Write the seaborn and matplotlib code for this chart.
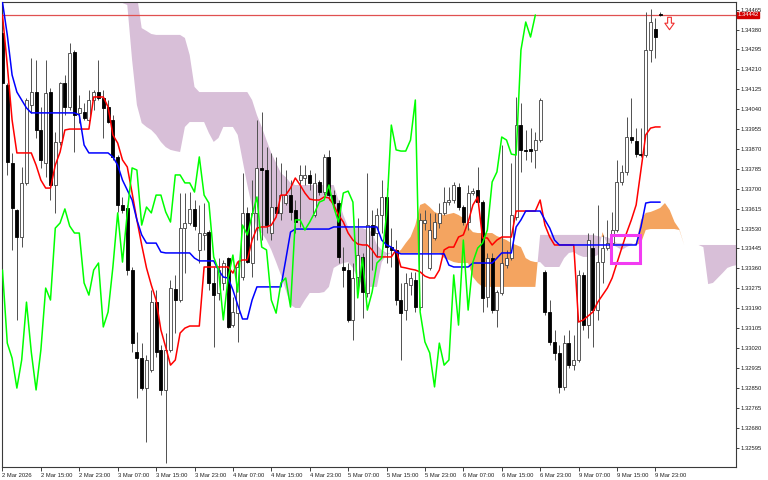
"""H1 candlestick chart with Ichimoku cloud, drawn in MetaTrader style."""

import matplotlib

matplotlib.use("Agg")
import matplotlib.pyplot as plt
import numpy as np
import pandas as pd
import seaborn as sns
from matplotlib.patches import Rectangle
from matplotlib.path import Path

# hourly bars, 2 Mar 07:00 -> 10 Mar 00:00 (weekend hours skipped)
opens = [
    1.34365, 1.34143, 1.33810, 1.33609, 1.33494, 1.33725, 1.34058, 1.34113, 1.33951, 1.33810,
    1.34113, 1.33716, 1.33900, 1.34152, 1.34049, 1.34284, 1.34024, 1.34028, 1.33994, 1.34079,
    1.34113, 1.34088, 1.34049, 1.33994, 1.33836, 1.33631, 1.33618, 1.33353, 1.33003, 1.32977,
    1.32849, 1.32926, 1.33216, 1.33012, 1.32841, 1.33012, 1.33272, 1.33225, 1.33532, 1.33554,
    1.33614, 1.33439, 1.33503, 1.33515, 1.33298, 1.33255, 1.33298, 1.33404, 1.33118, 1.33169,
    1.33323, 1.33597, 1.33383, 1.33597, 1.33789, 1.33780, 1.33511, 1.33622, 1.33597, 1.33639,
    1.33673, 1.33609, 1.33737, 1.33746, 1.33759, 1.33588, 1.33729, 1.33686, 1.33836, 1.33673,
    1.33639, 1.33366, 1.33353, 1.33140, 1.33323, 1.33409, 1.33255, 1.33545, 1.33511, 1.33588,
    1.33665, 1.33451, 1.33439, 1.33225, 1.33182, 1.33289, 1.33310, 1.33195, 1.33554, 1.33362,
    1.33490, 1.33554, 1.33597, 1.33643, 1.33652, 1.33708, 1.33622, 1.33558, 1.33682, 1.33695,
    1.33643, 1.33238, 1.33404, 1.33182, 1.33255, 1.33374, 1.33404, 1.33579, 1.33972, 1.33866,
    1.33870, 1.33866, 1.33908, 1.33345, 1.33174, 1.33046, 1.32999, 1.32854, 1.33041, 1.32947,
    1.32969, 1.33332, 1.33118, 1.33447, 1.33182, 1.33387, 1.33447, 1.33468, 1.33524, 1.33729,
    1.33772, 1.33921, 1.33904, 1.33848, 1.33844, 1.34292, 1.34382, 1.34446,
]
highs = [
    1.34378, 1.34152, 1.33853, 1.33614, 1.33793, 1.34088, 1.34258, 1.34250, 1.34049, 1.34250,
    1.34130, 1.33942, 1.34156, 1.34186, 1.34322, 1.34292, 1.34100, 1.34066, 1.34122, 1.34122,
    1.34250, 1.34122, 1.34079, 1.34015, 1.33844, 1.33665, 1.33631, 1.33366, 1.33088, 1.33041,
    1.32990, 1.33268, 1.33268, 1.33033, 1.33084, 1.33310, 1.33332, 1.33682, 1.33682, 1.33686,
    1.33652, 1.33631, 1.33639, 1.33524, 1.33366, 1.33404, 1.33396, 1.33409, 1.33238, 1.33396,
    1.33767, 1.33622, 1.33737, 1.33994, 1.34028, 1.33878, 1.33853, 1.33836, 1.33810, 1.33780,
    1.33737, 1.33652, 1.33801, 1.33801, 1.33780, 1.33767, 1.33737, 1.33848, 1.33866, 1.33695,
    1.33652, 1.33451, 1.33383, 1.33383, 1.33575, 1.33426, 1.33767, 1.33609, 1.33618, 1.33737,
    1.33703, 1.33532, 1.33481, 1.33298, 1.33340, 1.33345, 1.33345, 1.33597, 1.33609, 1.33597,
    1.33597, 1.33639, 1.33708, 1.33708, 1.33729, 1.33725, 1.33631, 1.33716, 1.33703, 1.33793,
    1.33652, 1.33426, 1.33426, 1.33268, 1.33887, 1.33439, 1.33810, 1.34092, 1.34066, 1.33951,
    1.33959, 1.33942, 1.34088, 1.33353, 1.33225, 1.33097, 1.33033, 1.33076, 1.33097, 1.33076,
    1.33353, 1.33345, 1.33511, 1.33511, 1.33631, 1.33503, 1.33567, 1.33601, 1.33823, 1.33801,
    1.34006, 1.34088, 1.33959, 1.33959, 1.34455, 1.34468, 1.34429, 1.34455,
]
lows = [
    1.34143, 1.33759, 1.33439, 1.33140, 1.33451, 1.33716, 1.34024, 1.33917, 1.33789, 1.33750,
    1.33652, 1.33597, 1.33887, 1.34015, 1.34036, 1.33857, 1.33981, 1.33994, 1.33985, 1.34036,
    1.34079, 1.33917, 1.33981, 1.33823, 1.33601, 1.33597, 1.33332, 1.33003, 1.32807, 1.32841,
    1.32619, 1.32918, 1.32982, 1.32819, 1.32529, 1.33003, 1.33084, 1.33216, 1.33340, 1.33545,
    1.33524, 1.33383, 1.33439, 1.33268, 1.33024, 1.33225, 1.33268, 1.33105, 1.33110, 1.33046,
    1.33310, 1.33383, 1.33323, 1.33481, 1.33481, 1.33511, 1.33481, 1.33597, 1.33567, 1.33631,
    1.33567, 1.33511, 1.33537, 1.33716, 1.33695, 1.33579, 1.33673, 1.33673, 1.33652, 1.33609,
    1.33383, 1.33281, 1.33131, 1.33054, 1.33268, 1.33148, 1.33238, 1.33353, 1.33409, 1.33511,
    1.33383, 1.33366, 1.33204, 1.32969, 1.33140, 1.33246, 1.33174, 1.33182, 1.33524, 1.33353,
    1.33481, 1.33532, 1.33588, 1.33631, 1.33639, 1.33609, 1.33545, 1.33524, 1.33673, 1.33639,
    1.33174, 1.33195, 1.33169, 1.33110, 1.33246, 1.33362, 1.33396, 1.33567, 1.33772, 1.33823,
    1.33814, 1.33789, 1.33900, 1.33161, 1.33033, 1.32969, 1.32828, 1.32841, 1.32935, 1.32926,
    1.32960, 1.33097, 1.33063, 1.33024, 1.33140, 1.33298, 1.33439, 1.33460, 1.33515, 1.33716,
    1.33759, 1.33895, 1.33836, 1.33836, 1.33836, 1.34241, 1.34258, 1.34438,
]
closes = [
    1.34152, 1.33814, 1.33618, 1.33494, 1.33725, 1.34079, 1.34113, 1.33951, 1.33823, 1.34109,
    1.33716, 1.33900, 1.34152, 1.34049, 1.34280, 1.34015, 1.34045, 1.34002, 1.34079, 1.34113,
    1.34088, 1.34045, 1.33985, 1.33836, 1.33631, 1.33609, 1.33353, 1.33041, 1.32977, 1.32849,
    1.32969, 1.33216, 1.33003, 1.32841, 1.33012, 1.33276, 1.33225, 1.33532, 1.33554, 1.33614,
    1.33541, 1.33511, 1.33511, 1.33298, 1.33246, 1.33353, 1.33383, 1.33110, 1.33174, 1.33366,
    1.33597, 1.33387, 1.33597, 1.33789, 1.33780, 1.33545, 1.33622, 1.33597, 1.33673, 1.33673,
    1.33601, 1.33558, 1.33759, 1.33759, 1.33725, 1.33725, 1.33686, 1.33836, 1.33673, 1.33639,
    1.33409, 1.33353, 1.33140, 1.33319, 1.33417, 1.33259, 1.33545, 1.33503, 1.33588, 1.33665,
    1.33451, 1.33439, 1.33225, 1.33169, 1.33298, 1.33319, 1.33195, 1.33567, 1.33567, 1.33524,
    1.33558, 1.33597, 1.33643, 1.33652, 1.33716, 1.33622, 1.33558, 1.33682, 1.33690, 1.33643,
    1.33234, 1.33404, 1.33182, 1.33259, 1.33383, 1.33404, 1.33588, 1.33972, 1.33866, 1.33861,
    1.33861, 1.33908, 1.34079, 1.33174, 1.33046, 1.32999, 1.32854, 1.33041, 1.32947, 1.32969,
    1.33332, 1.33118, 1.33481, 1.33182, 1.33387, 1.33447, 1.33468, 1.33524, 1.33729, 1.33772,
    1.33921, 1.33908, 1.33848, 1.33844, 1.34292, 1.34412, 1.34348, 1.34442,
]

# Ichimoku lines as drawn on the chart
tenkan = [
    1.34442, 1.34228, 1.33994, 1.33853, 1.33853, 1.33853, 1.33853, 1.33801, 1.33737, 1.33703,
    1.33703, 1.33801, 1.33857, 1.33951, 1.33955, 1.33955, 1.33955, 1.33955, 1.33955, 1.34092,
    1.34092, 1.34092, 1.34049, 1.33930, 1.33895, 1.33823, 1.33793, 1.33682, 1.33567, 1.33460,
    1.33362, 1.33289, 1.33225, 1.33097, 1.33024, 1.32947, 1.32969, 1.33084, 1.33105, 1.33114,
    1.33114, 1.33114, 1.33366, 1.33366, 1.33366, 1.33366, 1.33366, 1.33366, 1.33340, 1.33387,
    1.33396, 1.33396, 1.33481, 1.33532, 1.33537, 1.33537, 1.33545, 1.33579, 1.33673, 1.33673,
    1.33703, 1.33746, 1.33716, 1.33682, 1.33656, 1.33652, 1.33652, 1.33665, 1.33661, 1.33631,
    1.33588, 1.33558, 1.33511, 1.33481, 1.33464, 1.33460, 1.33460, 1.33439, 1.33409, 1.33409,
    1.33409, 1.33409, 1.33439, 1.33366, 1.33362, 1.33357, 1.33353, 1.33345, 1.33327, 1.33319,
    1.33319, 1.33353, 1.33439, 1.33451, 1.33451, 1.33494, 1.33503, 1.33558, 1.33631, 1.33665,
    1.33490, 1.33490, 1.33460, 1.33481, 1.33494, 1.33494, 1.33494, 1.33605, 1.33605, 1.33605,
    1.33605, 1.33605, 1.33652, 1.33545, 1.33494, 1.33460, 1.33460, 1.33460, 1.33460, 1.33460,
    1.33131, 1.33140, 1.33157, 1.33174, 1.33216, 1.33246, 1.33276, 1.33319, 1.33383, 1.33447,
    1.33511, 1.33567, 1.33631, 1.33780, 1.33930, 1.33959, 1.33964, 1.33964,
]
kijun = [
    1.34497, 1.34357, 1.34186, 1.34113, 1.34079, 1.34045, 1.34024, 1.34024, 1.34024, 1.34024,
    1.34024, 1.34024, 1.34024, 1.34024, 1.34024, 1.34024, 1.34015, 1.33887, 1.33853, 1.33853,
    1.33853, 1.33853, 1.33853, 1.33836, 1.33801, 1.33737, 1.33695, 1.33652, 1.33567, 1.33503,
    1.33468, 1.33468, 1.33468, 1.33430, 1.33426, 1.33426, 1.33426, 1.33426, 1.33426, 1.33426,
    1.33404, 1.33392, 1.33392, 1.33392, 1.33392, 1.33353, 1.33323, 1.33319, 1.33268, 1.33204,
    1.33144, 1.33144, 1.33225, 1.33281, 1.33281, 1.33281, 1.33281, 1.33281, 1.33281, 1.33396,
    1.33515, 1.33528, 1.33528, 1.33528, 1.33528, 1.33528, 1.33528, 1.33528, 1.33528, 1.33537,
    1.33537, 1.33537, 1.33537, 1.33537, 1.33537, 1.33537, 1.33537, 1.33537, 1.33537, 1.33481,
    1.33460, 1.33451, 1.33430, 1.33422, 1.33422, 1.33422, 1.33422, 1.33422, 1.33422, 1.33422,
    1.33422, 1.33422, 1.33422, 1.33374, 1.33366, 1.33366, 1.33366, 1.33366, 1.33383, 1.33383,
    1.33383, 1.33383, 1.33383, 1.33404, 1.33426, 1.33426, 1.33426, 1.33537, 1.33567, 1.33605,
    1.33605, 1.33605, 1.33605, 1.33567, 1.33532, 1.33481, 1.33460, 1.33460, 1.33460, 1.33460,
    1.33460, 1.33460, 1.33460, 1.33460, 1.33460, 1.33460, 1.33460, 1.33460, 1.33460, 1.33460,
    1.33460, 1.33460, 1.33460, 1.33537, 1.33639, 1.33643, 1.33643, 1.33643,
]

# cloud spans, starting at bar 20 and running 26 bars past the last candle
cloud_first_bar = 20
span_a = [
    1.34519, 1.34497, 1.34493, 1.34493, 1.34493, 1.34493, 1.34485, 1.34250, 1.34058, 1.33981,
    1.33964, 1.33951, 1.33930, 1.33900, 1.33878, 1.33866, 1.33861, 1.33857, 1.33964, 1.33985,
    1.33985, 1.33985, 1.33985, 1.33938, 1.33900, 1.33917, 1.33964, 1.33964, 1.33964, 1.33930,
    1.33823, 1.33716, 1.33622, 1.33524, 1.33511, 1.33481, 1.33439, 1.33387, 1.33332, 1.33268,
    1.33204, 1.33191, 1.33191, 1.33225, 1.33255, 1.33255, 1.33255, 1.33259, 1.33281, 1.33362,
    1.33374, 1.33383, 1.33387, 1.33362, 1.33319, 1.33289, 1.33281, 1.33281, 1.33281, 1.33387,
    1.33417, 1.33426, 1.33426, 1.33439, 1.33468, 1.33494, 1.33545, 1.33631, 1.33639, 1.33622,
    1.33601, 1.33592, 1.33588, 1.33592, 1.33597, 1.33588, 1.33575, 1.33537, 1.33515, 1.33511,
    1.33511, 1.33511, 1.33511, 1.33498, 1.33490, 1.33481, 1.33468, 1.33460, 1.33451, 1.33404,
    1.33392, 1.33387, 1.33387, 1.33366, 1.33366, 1.33366, 1.33366, 1.33404, 1.33426, 1.33430,
    1.33417, 1.33409, 1.33409, 1.33409, 1.33417, 1.33515, 1.33460, 1.33460, 1.33451, 1.33439,
    1.33451, 1.33460, 1.33468, 1.33567, 1.33597, 1.33601, 1.33609, 1.33618, 1.33639, 1.33609,
    1.33558, 1.33528, 1.33460, 1.33460, 1.33460, 1.33460, 1.33451, 1.33293, 1.33298, 1.33319,
    1.33340, 1.33362, 1.33370, 1.33374,
]
span_b = [
    1.34634, 1.34634, 1.34634, 1.34634, 1.34634, 1.34634, 1.34634, 1.34634, 1.34527, 1.34386,
    1.34374, 1.34361, 1.34357, 1.34357, 1.34357, 1.34357, 1.34357, 1.34357, 1.34344, 1.34271,
    1.34135, 1.34113, 1.34113, 1.34113, 1.34113, 1.34113, 1.34113, 1.34113, 1.34113, 1.34113,
    1.34113, 1.34113, 1.34079, 1.34015, 1.33964, 1.33908, 1.33853, 1.33810, 1.33767, 1.33750,
    1.33725, 1.33716, 1.33716, 1.33716, 1.33716, 1.33716, 1.33716, 1.33716, 1.33716, 1.33716,
    1.33652, 1.33588, 1.33537, 1.33532, 1.33532, 1.33532, 1.33524, 1.33515, 1.33460, 1.33439,
    1.33426, 1.33426, 1.33426, 1.33426, 1.33426, 1.33426, 1.33426, 1.33426, 1.33426, 1.33426,
    1.33426, 1.33426, 1.33404, 1.33396, 1.33387, 1.33383, 1.33383, 1.33383, 1.33323, 1.33298,
    1.33281, 1.33281, 1.33281, 1.33281, 1.33281, 1.33281, 1.33281, 1.33281, 1.33281, 1.33281,
    1.33281, 1.33281, 1.33503, 1.33503, 1.33503, 1.33503, 1.33503, 1.33503, 1.33503, 1.33503,
    1.33503, 1.33503, 1.33503, 1.33503, 1.33498, 1.33494, 1.33494, 1.33481, 1.33468, 1.33468,
    1.33468, 1.33468, 1.33460, 1.33468, 1.33524, 1.33528, 1.33528, 1.33528, 1.33528, 1.33528,
    1.33528, 1.33524, 1.33460, 1.33460, 1.33460, 1.33460, 1.33460, 1.33460, 1.33460, 1.33460,
    1.33460, 1.33460, 1.33460, 1.33460,
]
chikou_shift = 26

# chart objects
box_bars = [126.7, 132.9]
box_prices = [1.33383, 1.33503]
arrow_bar = 138.75
arrow_price = 1.34408

time_tick_bars = [0, 8, 16, 24, 32, 40, 48, 56, 64, 72, 80, 88, 96, 104, 112, 120, 128, 136]
time_labels = [
    "2 Mar 2026", "2 Mar 15:00", "2 Mar 23:00", "3 Mar 07:00", "3 Mar 15:00", "3 Mar 23:00",
    "4 Mar 07:00", "4 Mar 15:00", "4 Mar 23:00", "5 Mar 07:00", "5 Mar 15:00", "5 Mar 23:00",
    "6 Mar 07:00", "6 Mar 15:00", "6 Mar 23:00", "9 Mar 07:00", "9 Mar 15:00", "9 Mar 23:00",
]
price_ticks = [
    1.32595, 1.32680, 1.32765, 1.32850, 1.32935, 1.33020, 1.33105, 1.33190, 1.33275, 1.33360,
    1.33445, 1.33530, 1.33615, 1.33700, 1.33785, 1.33870, 1.33955, 1.34040, 1.34125, 1.34210,
    1.34295, 1.34380, 1.34465,
]

sns.set_theme(style="white")
plt.rcParams["font.family"] = ["Liberation Sans", "DejaVu Sans"]

bars = pd.DataFrame({"open": opens, "high": highs, "low": lows, "close": closes,
                     "tenkan": tenkan, "kijun": kijun})
bars["bar"] = np.arange(len(bars))
bars["chikou"] = bars["close"].shift(-chikou_shift)

cloud = pd.DataFrame({"a": span_a, "b": span_b})
cloud["bar"] = np.arange(cloud_first_bar, cloud_first_bar + len(cloud))

fig = plt.figure(figsize=(7.68, 4.8), dpi=100)
ax = fig.add_axes([2 / 768, 13 / 480, 734 / 768, 465 / 480])

# Kumo
ax.fill_between(cloud["bar"], cloud["a"], cloud["b"], where=cloud["a"] >= cloud["b"],
                interpolate=True, color="#F4A460", lw=0, zorder=1)
ax.fill_between(cloud["bar"], cloud["a"], cloud["b"], where=cloud["a"] <= cloud["b"],
                interpolate=True, color="#D8BFD8", lw=0, zorder=1)

# candles
up = bars["close"] >= bars["open"]
ax.vlines(bars["bar"], bars["low"], bars["high"], color="#505050", lw=0.7, zorder=2)
body = (bars["close"] - bars["open"]).abs().clip(lower=0.000015)
ax.bar(bars["bar"][up], body[up], bottom=bars["open"][up], width=0.62,
       color="white", edgecolor="#404040", lw=0.6, zorder=3)
ax.bar(bars["bar"][~up], body[~up], bottom=bars["close"][~up], width=0.62,
       color="black", edgecolor="black", lw=0.6, zorder=3)

# bid line
ax.axhline(closes[-1], color="#E05050", lw=0.9, zorder=1.5)

# Ichimoku lines
sns.lineplot(data=bars, x="bar", y="tenkan", color="#FF0000", linewidth=1.1,
             estimator=None, sort=False, ax=ax, zorder=4)
sns.lineplot(data=bars, x="bar", y="kijun", color="#0000FF", linewidth=1.1,
             estimator=None, sort=False, ax=ax, zorder=4)
sns.lineplot(data=bars.dropna(subset=["chikou"]), x="bar", y="chikou", color="#00FF00",
             linewidth=1.1, estimator=None, sort=False, ax=ax, zorder=4)

# rectangle object and sell arrow
ax.add_patch(Rectangle((box_bars[0], box_prices[0]), box_bars[1] - box_bars[0],
                       box_prices[1] - box_prices[0], fill=False, ec="#F23CF2", lw=2.2, zorder=5))
arrow = Path([(-0.3, 1), (0.3, 1), (0.3, 0.05), (0.75, 0.05), (0, -1), (-0.75, 0.05),
              (-0.3, 0.05), (-0.3, 1)], closed=True)
ax.scatter([arrow_bar], [arrow_price], marker=arrow, s=80, facecolor="white",
           edgecolor="#F03030", linewidth=0.8, zorder=6)

ax.set_xlim(-0.1, 152.8)
ax.set_ylim(1.32512, 1.344975)
ax.set_xlabel("")
ax.set_ylabel("")
ax.grid(False)

ax.set_xticks(time_tick_bars)
ax.set_xticklabels(time_labels, ha="left")
ax.yaxis.tick_right()
ax.set_yticks(price_ticks)
ax.set_yticklabels([f"{p:.5f}" for p in price_ticks])
ax.tick_params(axis="x", bottom=True, length=3, width=0.6, pad=1, labelsize=4.2,
               colors="#202020", direction="out")
ax.tick_params(axis="y", right=True, left=False, length=2, width=0.6, pad=1,
               labelsize=4.2, colors="#202020", direction="out")
for spine in ax.spines.values():
    spine.set_color("#3a3a3a")
    spine.set_linewidth(0.8)

# current price tag on the price scale
ax.text(1.002, closes[-1], f"{closes[-1]:.5f}", transform=ax.get_yaxis_transform(),
        ha="left", va="center", fontsize=4.2, color="white", zorder=7,
        bbox=dict(boxstyle="square,pad=0.12", fc="#D40000", ec="#D40000"))

fig.savefig("out.png", dpi=100, facecolor="white")
plt.close(fig)
